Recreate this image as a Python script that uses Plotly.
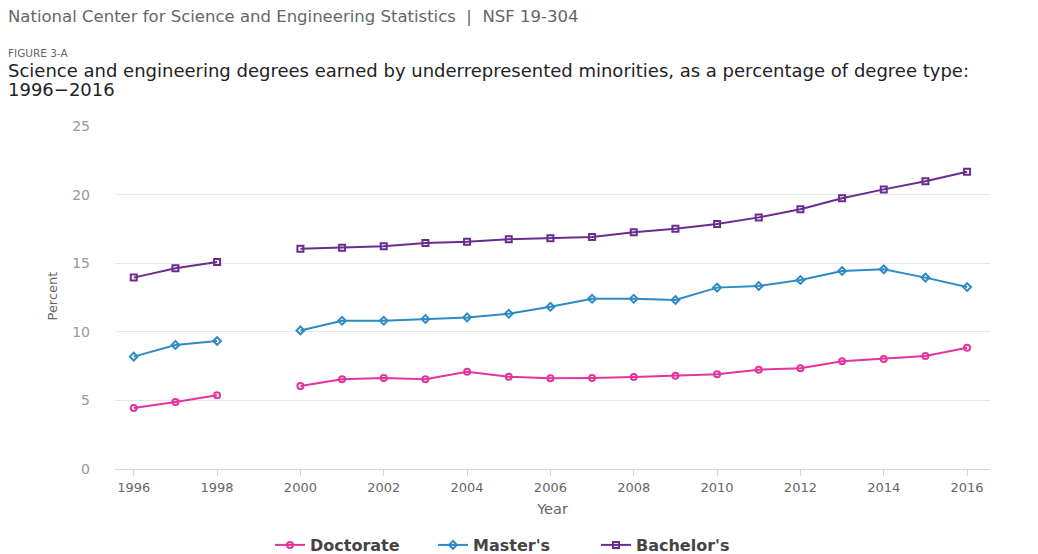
import plotly.graph_objects as go

years = list(range(1996, 2017))
doctorate = [4.45, 4.88, 5.37, None, 6.05, 6.54, 6.63, 6.54, 7.09, 6.73, 6.62, 6.63, 6.70, 6.80, 6.90, 7.24, 7.34, 7.85, 8.02, 8.24, 8.84]
masters = [8.19, 9.04, 9.33, None, 10.10, 10.81, 10.81, 10.93, 11.05, 11.32, 11.83, 12.41, 12.41, 12.32, 13.22, 13.34, 13.78, 14.43, 14.55, 13.95, 13.27]
bachelors = [13.95, 14.63, 15.09, None, 16.06, 16.13, 16.23, 16.47, 16.57, 16.74, 16.81, 16.91, 17.25, 17.52, 17.86, 18.34, 18.93, 19.73, 20.38, 20.97, 21.67]
x_ticks = list(range(1996, 2017, 2))
y_ticks = [0, 5, 10, 15, 20, 25]

# page body has an 8px margin; work in screen pixels and convert
OFF = 8
W, H = 1030, 580
PL, PR, PT, PB = 115, 990, 126, 469  # plot area in screen pixels
L = PL - OFF
T = PT - OFF
R = W - (PR - OFF)
B = H - (PB - OFF)
PW, PH = PR - PL, PB - PT

def px(x):
    return (x - PL) / PW

def py(y):
    return (PB - y) / PH

FONT = "DejaVu Sans"
series = [
    ("Doctorate", doctorate, "#e3349c", "circle-open"),
    ("Master's", masters, "#2e8bc4", "diamond-open"),
    ("Bachelor's", bachelors, "#6a2d8f", "square-open"),
]

fig = go.Figure()
for name, vals, color, sym in series:
    fig.add_trace(go.Scatter(
        x=years, y=vals, name=name, mode="lines+markers",
        connectgaps=False,
        line=dict(color=color, width=2),
        marker=dict(symbol=sym, size=6, color=color, line=dict(color=color, width=2)),
    ))

fig.update_layout(
    width=W, height=H,
    margin=dict(l=L, r=R, t=T, b=B),
    paper_bgcolor="white", plot_bgcolor="white",
    font=dict(family=FONT, color="#666666"),
    showlegend=True,
    legend=dict(orientation="h", x=px(270), xanchor="left", y=py(545), yanchor="middle",
                font=dict(family=FONT, size=16, color="#444444", weight="bold"),
                itemwidth=30, tracegroupgap=0, entrywidth=118, entrywidthmode="pixels"),
    xaxis=dict(range=[1995.55, 2016.55], tickvals=x_ticks, ticktext=[str(v) for v in x_ticks],
               showgrid=False, zeroline=False, showline=True, linecolor="#ccd6eb", linewidth=1,
               ticks="outside", ticklen=6, tickcolor="#ccd6eb",
               tickfont=dict(family=FONT, size=13, color="#666666"),
               title=dict(text="Year", font=dict(family=FONT, size=14.5, color="#666666"), standoff=10)),
    yaxis=dict(range=[0, 25], tickvals=y_ticks, showgrid=True, gridcolor="#e6e6e6", gridwidth=1,
               zeroline=False, showline=False, ticks="", ticklabelstandoff=24,
               tickfont=dict(family=FONT, size=14, color="#999999")),
)

fig.add_annotation(text="Percent", x=px(42), y=py(296), xref="paper", yref="paper",
                   textangle=-90, showarrow=False, font=dict(family=FONT, size=13, color="#666666"))
fig.add_annotation(text="National Center for Science and Engineering Statistics  |  NSF 19-304",
                   x=px(6), y=py(16.5), xref="paper", yref="paper", xanchor="left", yanchor="middle",
                   showarrow=False, font=dict(family=FONT, size=16.5, color="#666666"))
fig.add_annotation(text="FIGURE 3-A", x=px(6), y=py(53), xref="paper", yref="paper",
                   xanchor="left", yanchor="middle", showarrow=False,
                   font=dict(family=FONT, size=10.5, color="#666666"))
fig.add_annotation(text="Science and engineering degrees earned by underrepresented minorities, as a percentage of degree type:",
                   x=px(6), y=py(70), xref="paper", yref="paper", xanchor="left", yanchor="middle",
                   showarrow=False, font=dict(family=FONT, size=18, color="#222222"))
fig.add_annotation(text="1996\u22122016",
                   x=px(6), y=py(89.5), xref="paper", yref="paper", xanchor="left", yanchor="middle",
                   showarrow=False, font=dict(family=FONT, size=18, color="#222222"))

fig.write_html("out.html")
